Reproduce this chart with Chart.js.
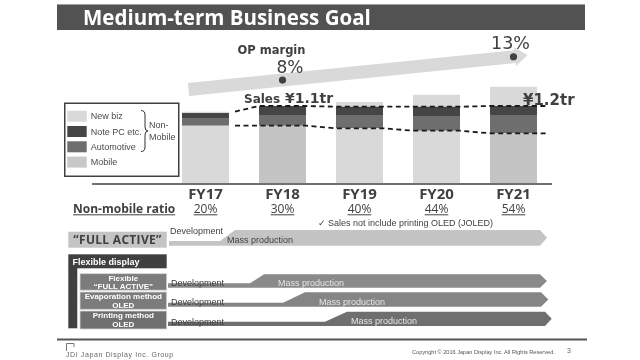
<!DOCTYPE html>
<html>
<head>
<meta charset="utf-8">
<script src="https://cdn.jsdelivr.net/npm/chart.js@4.4.0/dist/chart.umd.min.js"></script>
<style>
  html, body { margin: 0; padding: 0; background: #fff; }
  #wrap { position: relative; width: 640px; height: 360px; overflow: hidden; }
  #goalChart, #deco { position: absolute; left: 0; top: 0; }
  #deco { pointer-events: none; }
</style>
</head>
<body>
<div id="wrap">
  <canvas id="goalChart" width="640" height="360"></canvas>
  <svg id="deco" width="640" height="360" xmlns="http://www.w3.org/2000/svg">
    <!-- title bar -->
    <rect x="57" y="4" width="528" height="26" fill="#525252"/>
    <line x1="57" y1="4.5" x2="585" y2="4.5" stroke="#a0a0a0" stroke-width="1"/>
    <text x="83" y="24.5" font-family="Open Sans" font-weight="700" font-size="20.5" fill="#fff">Medium-term Business Goal</text>

    <!-- sales callouts -->
    <text x="244" y="102.5" font-family="DejaVu Sans" font-weight="700" font-size="12" fill="#404040">Sales</text>
    <text x="285" y="102.5" font-family="DejaVu Sans" font-weight="700" font-size="14" fill="#404040">¥1.1tr</text>
    <text x="523" y="105" font-family="DejaVu Sans" font-weight="700" font-size="15" fill="#404040">¥1.2tr</text>

    <!-- legend -->
    <rect x="64.75" y="103.25" width="114" height="73" fill="#fff" stroke="#404040" stroke-width="1.5"/>
    <g id="legendItems"></g>
    <path d="M141,110.5 Q145,110.5 145,115 L145,127 Q145,131 148,131 Q145,131 145,135 L145,147 Q145,151.5 141,151.5" fill="none" stroke="#333" stroke-width="1"/>
    <text x="149" y="128.3" font-family="Liberation Sans" font-size="9" fill="#4a4a4a">Non-</text>
    <text x="149" y="140" font-family="Liberation Sans" font-size="9" fill="#4a4a4a">Mobile</text>

    <text x="318" y="225.5" font-family="Liberation Sans, DejaVu Sans" font-size="9" fill="#404040">✓ Sales not include printing OLED (JOLED)</text>

    <!-- FULL ACTIVE roadmap -->
    <rect x="68.3" y="231.7" width="98.4" height="16" fill="#c4c4c4"/>
    <text x="117.5" y="244" text-anchor="middle" font-family="Open Sans" font-weight="700" font-size="12" letter-spacing="0.3" fill="#404040">“FULL ACTIVE”</text>
    <polygon points="169,241 220,241 235,230 540,230 547,237.8 540,245.7 169,245.7" fill="#c4c4c4"/>
    <text x="170" y="233.5" font-family="Liberation Sans" font-size="9" fill="#404040">Development</text>
    <text x="227" y="243" font-family="Liberation Sans" font-size="9" fill="#404040">Mass production</text>

    <!-- Flexible display roadmap -->
    <rect x="68.3" y="254.3" width="98.4" height="14" fill="#404040"/>
    <rect x="68.3" y="268" width="9" height="60.3" fill="#404040"/>
    <text x="72.5" y="264.5" font-family="Liberation Sans" font-weight="700" font-size="9" fill="#fff">Flexible display</text>

    <rect x="80" y="273.7" width="86.7" height="16.5" fill="#7c7c7c" stroke="#d6d6d6" stroke-width="0.8"/>
    <rect x="80" y="292" width="86.7" height="17.3" fill="#7c7c7c" stroke="#d6d6d6" stroke-width="0.8"/>
    <rect x="80" y="311" width="86.7" height="18" fill="#707070" stroke="#d6d6d6" stroke-width="0.8"/>
    <g font-family="Liberation Sans" font-weight="700" font-size="8" fill="#fff" text-anchor="middle">
      <text x="123.3" y="280.8">Flexible</text>
      <text x="123.3" y="289">“FULL ACTIVE”</text>
      <text x="123.3" y="299.3">Evaporation method</text>
      <text x="123.3" y="307.8">OLED</text>
      <text x="123.3" y="318.3">Printing method</text>
      <text x="123.3" y="327">OLED</text>
    </g>

    <polygon points="168,283.3 250,283.3 264,274.3 540,274.3 547,281 540,287.7 168,287.7" fill="#8a8a8a"/>
    <polygon points="168,302.7 283,302.7 305,292.3 541,292.3 548.3,299.5 541,306.7 168,306.7" fill="#858585"/>
    <polygon points="168,321.7 325,321.7 347,311.7 545,311.7 551.7,318.8 545,326 168,326" fill="#6f6f6f"/>
    <g font-family="Liberation Sans" font-size="9">
      <text x="171" y="286" fill="#404040">Development</text>
      <text x="278" y="285.5" fill="#e6e6e6">Mass production</text>
      <text x="171" y="305" fill="#404040">Development</text>
      <text x="319" y="304.5" fill="#e6e6e6">Mass production</text>
      <text x="171" y="324.5" fill="#404040">Development</text>
      <text x="351" y="324" fill="#e6e6e6">Mass production</text>
    </g>

    <!-- footer -->
    <line x1="57" y1="339.5" x2="587" y2="339.5" stroke="#555" stroke-width="2"/>
    <path d="M66.5,351 V343.5 H74 V347" fill="none" stroke="#777" stroke-width="1"/>
    <text x="66" y="356.5" font-family="Liberation Sans" font-size="7" letter-spacing="0.6" fill="#666">JDI Japan Display Inc. Group</text>
    <text x="412" y="354" font-family="Liberation Sans" font-size="5.6" fill="#555">Copyright © 2016 Japan Display Inc.    All Rights Reserved.</text>
    <text x="567" y="353" font-family="Liberation Sans" font-size="7" fill="#666">3</text>
  </svg>
</div>
<script>
// values (sales in JPY bn, stacked bottom to top)
const categories = ['FY17', 'FY18', 'FY19', 'FY20', 'FY21'];
const mobile = [802, 802, 766, 732, 696];
const automotive = [108, 150, 186, 206, 256];
const notePc = [70, 126, 116, 130, 126];
const newBiz = [18, 0, 66, 168, 270];
const nonMobileRatio = ['20%', '30%', '40%', '44%', '54%'];
const opMargin = [null, 8, null, null, 13];
const opMarginLabels = [null, '8%', null, null, '13%'];

const seriesNames = ['Mobile', 'Automotive', 'Note PC etc.', 'New biz'];
const seriesColors = ['#c8c8c8', '#6e6e6e', '#454545', '#d9d9d9'];
const mobileBarColors = ['#d9d9d9', '#c4c4c4', '#d9d9d9', '#d9d9d9', '#c4c4c4'];

// legend (top to bottom = reverse of stacking order)
const legendG = document.getElementById('legendItems');
const NS = 'http://www.w3.org/2000/svg';
seriesNames.slice().reverse().forEach((name, k) => {
  const idx = seriesNames.length - 1 - k;
  const top = 110.7 + k * 15.3;
  const r = document.createElementNS(NS, 'rect');
  r.setAttribute('x', 67.3); r.setAttribute('y', top);
  r.setAttribute('width', 19.4); r.setAttribute('height', 11);
  r.setAttribute('fill', seriesColors[idx]);
  legendG.appendChild(r);
  const t = document.createElementNS(NS, 'text');
  t.setAttribute('x', 90.7); t.setAttribute('y', top + 8.7);
  t.setAttribute('font-family', 'Liberation Sans');
  t.setAttribute('font-size', 9);
  t.setAttribute('fill', '#4a4a4a');
  t.textContent = name;
  legendG.appendChild(t);
});

function underlined(ctx, text, x, y) {
  const w = ctx.measureText(text).width;
  const left = ctx.textAlign === 'center' ? x - w / 2 : x;
  ctx.fillText(text, x, y);
  ctx.beginPath();
  ctx.moveTo(left, y + 1.8);
  ctx.lineTo(left + w, y + 1.8);
  ctx.stroke();
}

const slideExtras = {
  id: 'slideExtras',
  beforeDatasetsDraw(chart) {
    const {ctx} = chart;
    const xs = chart.scales.x, y2 = chart.scales.y2;
    const i1 = opMargin.findIndex(v => v !== null);
    const i2 = opMargin.length - 1 - opMargin.slice().reverse().findIndex(v => v !== null);
    const p1 = {x: xs.getPixelForValue(i1), y: y2.getPixelForValue(opMargin[i1])};
    const p2 = {x: xs.getPixelForValue(i2), y: y2.getPixelForValue(opMargin[i2])};
    const len = Math.hypot(p2.x - p1.x, p2.y - p1.y);
    const ux = (p2.x - p1.x) / len, uy = (p2.y - p1.y) / len;
    const nx = -uy, ny = ux;
    const t0 = ((xs.getPixelForValue(0) - 17) - p1.x) / ux;
    const s = {x: p1.x + ux * t0, y: p1.y + uy * t0};
    const e = {x: p2.x + ux * 1.5, y: p2.y + uy * 1.5};
    const tip = {x: p2.x + ux * 14, y: p2.y + uy * 14};
    const hw = 6.5, hh = 9.5;
    ctx.save();
    ctx.fillStyle = '#d9d9d9';
    ctx.beginPath();
    ctx.moveTo(s.x + nx * hw, s.y + ny * hw);
    ctx.lineTo(e.x + nx * hw, e.y + ny * hw);
    ctx.lineTo(e.x + nx * hh, e.y + ny * hh);
    ctx.lineTo(tip.x, tip.y);
    ctx.lineTo(e.x - nx * hh, e.y - ny * hh);
    ctx.lineTo(e.x - nx * hw, e.y - ny * hw);
    ctx.lineTo(s.x - nx * hw, s.y - ny * hw);
    ctx.closePath();
    ctx.fill();

    // OP margin texts
    ctx.fillStyle = '#404040';
    ctx.textAlign = 'center';
    ctx.textBaseline = 'alphabetic';
    ctx.font = "bold 11.5px 'DejaVu Sans'";
    ctx.fillText('OP margin', p1.x - 11, 54);
    ctx.font = "17px 'DejaVu Sans'";
    ctx.fillText(opMarginLabels[i1], p1.x + 7.5, 73);
    ctx.font = "17.5px 'DejaVu Sans'";
    ctx.fillText(opMarginLabels[i2], p2.x - 3, 49);
    ctx.restore();
  },
  afterDatasetsDraw(chart) {
    const {ctx, chartArea} = chart;
    const xs = chart.scales.x;

    // dashed band around the non-mobile segments
    const boundary = (meta) => {
      const pts = [];
      meta.data.forEach(b => {
        const h = b.width / 2;
        pts.push({x: b.x - h, y: b.y}, {x: b.x + h, y: b.y});
      });
      const a = pts[1], b = pts[2];
      const f = 6 / (b.x - a.x);
      pts.splice(0, 2, {x: a.x + 6, y: a.y + (b.y - a.y) * f});
      const last = pts[pts.length - 1];
      pts.push({x: last.x + 9, y: last.y});
      return pts;
    };
    ctx.save();
    ctx.strokeStyle = '#1a1a1a';
    ctx.lineWidth = 1.8;
    ctx.setLineDash([5, 3.5]);
    [chart.getDatasetMeta(3), chart.getDatasetMeta(1)].forEach(meta => {
      const pts = boundary(meta);
      ctx.beginPath();
      pts.forEach((p, i) => i ? ctx.lineTo(p.x, p.y) : ctx.moveTo(p.x, p.y));
      ctx.stroke();
    });
    ctx.setLineDash([]);

    // base line
    ctx.strokeStyle = '#707070';
    ctx.lineWidth = 2;
    ctx.beginPath();
    ctx.moveTo(92, chartArea.bottom + 1);
    ctx.lineTo(chartArea.right, chartArea.bottom + 1);
    ctx.stroke();

    // category labels
    ctx.fillStyle = '#404040';
    ctx.textAlign = 'center';
    ctx.textBaseline = 'alphabetic';
    ctx.font = "bold 15px 'Open Sans'";
    categories.forEach((c, i) => ctx.fillText(c, xs.getPixelForValue(i), 199));

    // non-mobile ratio row
    ctx.strokeStyle = '#404040';
    ctx.lineWidth = 1;
    ctx.textAlign = 'left';
    ctx.font = "bold 12px 'Open Sans'";
    underlined(ctx, 'Non-mobile ratio', 73, 213);
    ctx.textAlign = 'center';
    ctx.font = "12px 'Open Sans'";
    nonMobileRatio.forEach((r, i) => underlined(ctx, r, xs.getPixelForValue(i), 213));
    ctx.restore();
  }
};

const barCommon = {barPercentage: 0.61, categoryPercentage: 1.0, borderWidth: 0, order: 1};

new Chart(document.getElementById('goalChart').getContext('2d'), {
  type: 'bar',
  data: {
    labels: categories,
    datasets: [
      {type: 'line', label: 'OP margin', data: opMargin, yAxisID: 'y2', showLine: false,
       pointRadius: 3.6, pointBackgroundColor: '#404040', pointBorderWidth: 0, order: 0},
      {label: seriesNames[0], data: mobile, backgroundColor: mobileBarColors, ...barCommon},
      {label: seriesNames[1], data: automotive, backgroundColor: seriesColors[1], ...barCommon},
      {label: seriesNames[2], data: notePc, backgroundColor: seriesColors[2], ...barCommon},
      {label: seriesNames[3], data: newBiz, backgroundColor: seriesColors[3], ...barCommon}
    ]
  },
  options: {
    responsive: false,
    animation: false,
    events: [],
    layout: {padding: {left: 167, right: 88, top: 40, bottom: 177}},
    plugins: {legend: {display: false}, tooltip: {enabled: false}},
    scales: {
      x: {display: false, stacked: true},
      y: {display: false, stacked: true, min: 0, max: 2002},
      y2: {display: false, min: -14.1, max: 16.6}
    }
  },
  plugins: [slideExtras]
});
</script>
</body>
</html>
